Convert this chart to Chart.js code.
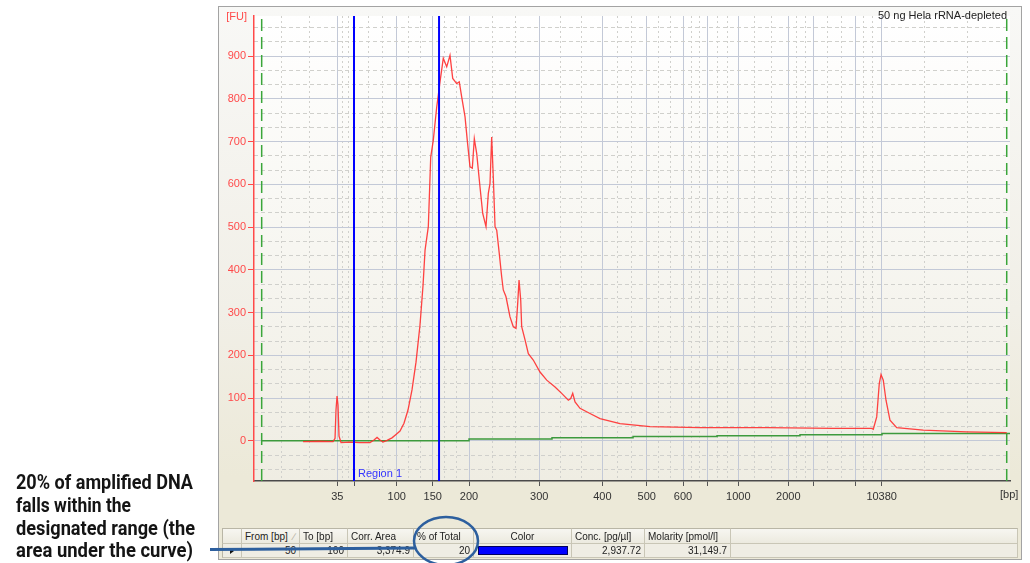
<!DOCTYPE html>
<html>
<head>
<meta charset="utf-8">
<script src="https://cdn.jsdelivr.net/npm/chart.js@4.4.1/dist/chart.umd.min.js"></script>
<style>
  html, body { margin: 0; padding: 0; width: 1030px; height: 563px; overflow: hidden; background: #ffffff;
    font-family: "Liberation Sans", Arial, sans-serif; }
  #panel { position: absolute; left: 218px; top: 6px; width: 804px; height: 554px; box-sizing: border-box;
    border: 1px solid #a3a3a3; background: linear-gradient(#f8f8f6 0%, #f1efe7 55%, #ece9d8 85%, #ece9d8 100%); }
  #chart { position: absolute; left: 0; top: 0; }
  #table { position: absolute; left: 0; top: 0; }
  .cell { position: absolute; box-sizing: border-box; font-size: 10px; color: #222; white-space: nowrap;
    border-right: 1px solid #c9c6b6; border-bottom: 1px solid #c9c6b6; overflow: hidden; }
  .head { background: linear-gradient(#f7f6f1, #eceadf); border-top: 1px solid #b9b6a6; padding: 2px 0 0 3px; }
  .row { background: #efede4; text-align: right; padding: 1px 3px 0 0; }
  .swatch { position: absolute; background: #0000ff; border: 1px solid #000060; box-sizing: border-box; }
  .pointer { position: absolute; width: 0; height: 0; border-top: 3px solid transparent; border-bottom: 3px solid transparent; border-left: 4px solid #111; }
  #notes { position: absolute; left: 0; top: 0; }
</style>
</head>
<body>
<div id="panel"></div>
<canvas id="chart" width="1030" height="563"></canvas>
<div id="table"></div>
<svg id="notes" width="1030" height="563" xmlns="http://www.w3.org/2000/svg"></svg>
<script>
// Electropherogram: fluorescence [FU] against migration time [s]; the x axis is labelled by ladder sizes [bp].
const ladderBp     = [35, 50, 100, 150, 200, 300, 400, 500, 600, 700, 1000, 2000, 3000, 7000, 10380];
const ladderTime   = [50.41, 52.5, 57.84, 62.34, 66.88, 75.66, 83.54, 89.09, 93.63, 96.66, 100.54, 106.79, 109.96, 115.13, 118.46];
const ladderLabels = ['35', '', '100', '150', '200', '300', '400', '500', '600', '', '1000', '2000', '', '', '10380'];
const timeRange    = [40, 134.5];

const fuTicks  = [0, 100, 200, 300, 400, 500, 600, 700, 800, 900];
const fuLabels = ['0', '100', '200', '300', '400', '500', '600', '700', '800', '900'];
const fuRange  = [-94, 994];

// sample trace
const sampleTime = [46.13, 48.25, 49.88, 50.13, 50.25, 50.38, 50.5, 50.63, 50.88, 52, 53.25, 54.5, 55, 55.38, 55.75,
  56.13, 56.63, 57.25, 57.75, 58.25, 58.75, 59.25, 59.75, 60.25, 60.75, 61.13, 61.38, 61.79, 62.09, 62.41, 62.84,
  63.04, 63.25, 63.66, 64.09, 64.5, 64.84, 65.34, 65.66, 65.96, 66.38, 66.66, 67, 67.29, 67.54, 67.84, 68.25, 68.59,
  69, 69.29, 69.5, 69.71, 69.91, 70.13, 70.34, 70.66, 70.96, 71.16, 71.5, 72, 72.41, 72.75, 72.96, 73.13, 73.34,
  73.46, 73.88, 74.29, 74.91, 75.75, 76.59, 77.63, 78.46, 79.29, 79.59, 79.84, 80.13, 80.75, 82, 83.25, 85.75, 89.5,
  95.75, 104.13, 112.38, 117.21, 117.41, 117.84, 118.16, 118.38, 118.66, 119, 119.5, 120.34, 123.66, 129.09, 134.09];
const sampleFU = [-2, -1, -2, 6, 72, 105, 84, 11, -4, -3, -4, -4, 2, 8, 2,
  -3, 1, 7, 15, 23, 41, 72, 119, 184, 271, 364, 446, 501, 664, 703, 781,
  809, 840, 895, 875, 902, 848, 836, 840, 805, 758, 703, 641, 638, 707, 672, 594, 532,
  501, 579, 602, 711, 618, 501, 493, 438, 384, 353, 337, 290, 267, 263, 321, 376, 329,
  267, 236, 204, 189, 161, 142, 126, 111, 95, 99, 111, 91, 76, 64, 52, 40, 33,
  31, 31, 29, 29, 27, 56, 134, 155, 142, 95, 48, 31, 25, 21, 19];

// baseline (stepped)
const baselineTime = [40.96, 66.88, 77.25, 87.38, 97.88, 108.25, 118.5, 134.5];
const baselineFU   = [0, 4, 7, 10, 12, 14, 17, 17];

// lower / upper marker and the region limits
const markerTime = [40.96, 134.09];
const regionBp   = [50, 160];
const regionTime = [52.5, 63.13];

// region table
const tableHeaders = ['', 'From [bp]', 'To [bp]', 'Corr. Area', '% of Total', 'Color', 'Conc. [pg/\u00b5l]', 'Molarity [pmol/l]', ''];
const tableValues  = ['', String(regionBp[0]), String(regionBp[1]), '3,374.9', '20', '', '2,937.72', '31,149.7', ''];

const noteLines = ['20% of amplified DNA', 'falls within the', 'designated range (the', 'area under the curve)'];
const chartTitle = '50 ng Hela rRNA-depleted';

// grid subdivisions: each interval split in three
function thirds(bounds, lo, hi) {
  const out = [];
  for (let i = 0; i < bounds.length - 1; i++) {
    const a = bounds[i], b = bounds[i + 1];
    [a + (b - a) / 3, a + 2 * (b - a) / 3].forEach(v => { if (v > lo && v < hi) out.push(v); });
  }
  return out;
}
const xMinor = thirds([timeRange[0], ...ladderTime, timeRange[1]], timeRange[0], timeRange[1]);
const yMinor = thirds([-100, ...fuTicks, 1000], fuRange[0], fuRange[1]);

const pts = (xs, ys) => xs.map((x, i) => ({ x: x, y: ys[i] }));
const vline = t => [{ x: t, y: fuRange[0] }, { x: t, y: fuRange[1] }];

const plotBg = {
  id: 'plotBg',
  beforeDraw(chart) {
    const { ctx, chartArea: a } = chart;
    const g = ctx.createLinearGradient(0, a.top, 0, a.bottom);
    g.addColorStop(0, '#ffffff');
    g.addColorStop(1, '#efede3');
    ctx.save();
    ctx.fillStyle = g;
    ctx.fillRect(a.left, a.top, a.right - a.left, a.bottom - a.top);
    ctx.restore();
  }
};

const plotText = {
  id: 'plotText',
  afterDraw(chart) {
    const { ctx, chartArea: a, scales } = chart;
    ctx.save();
    ctx.font = '11px "Liberation Sans", Arial, sans-serif';
    ctx.textBaseline = 'alphabetic';
    ctx.fillStyle = '#ff4a4a';
    ctx.textAlign = 'right';
    ctx.fillText('[FU]', a.left - 7, a.top + 4);
    ctx.fillStyle = '#222';
    ctx.fillText(chartTitle, a.right - 3, a.top + 3);
    ctx.textAlign = 'left';
    ctx.fillStyle = '#333';
    ctx.fillText('[bp]', a.right - 10, a.bottom + 17);
    ctx.fillStyle = '#3434ff';
    ctx.fillText('Region 1', scales.x.getPixelForValue(regionTime[0]) + 4, a.bottom - 4);
    ctx.restore();
  }
};

Chart.defaults.font.family = '"Liberation Sans", Arial, sans-serif';
Chart.defaults.font.size = 11;

new Chart(document.getElementById('chart'), {
  type: 'line',
  data: {
    datasets: [
      { label: 'Region 1 from', data: vline(regionTime[0]), borderColor: '#0000ff', borderWidth: 2, order: 0 },
      { label: 'Region 1 to', data: vline(regionTime[1]), borderColor: '#0000ff', borderWidth: 2, order: 0 },
      { label: 'Sample', data: pts(sampleTime, sampleFU), borderColor: 'rgba(255,45,45,0.9)', borderWidth: 1.3, order: 1 },
      { label: 'Baseline', data: pts(baselineTime, baselineFU), stepped: true, borderColor: '#3d9a3d', borderWidth: 1.5, order: 2 },
      { label: 'Lower marker', data: vline(markerTime[0]), borderColor: '#3aa63a', borderWidth: 1.5, borderDash: [12, 6], order: 3 },
      { label: 'Upper marker', data: vline(markerTime[1]), borderColor: '#3aa63a', borderWidth: 1.5, borderDash: [12, 6], order: 3 }
    ]
  },
  options: {
    responsive: false,
    animation: false,
    devicePixelRatio: 1,
    layout: { padding: { left: 218, top: 16, right: 20, bottom: 52 } },
    plugins: { legend: { display: false }, tooltip: { enabled: false } },
    elements: { point: { radius: 0 }, line: { tension: 0, fill: false } },
    scales: {
      x: {
        type: 'linear', axis: 'x', position: 'bottom', min: timeRange[0], max: timeRange[1],
        afterBuildTicks: s => { s.ticks = ladderTime.map(v => ({ value: v })); },
        afterFit: s => { s.height = 30; },
        ticks: { autoSkip: false, maxRotation: 0, minRotation: 0, color: '#333', padding: 4,
          callback: (v, i) => ladderLabels[i] },
        grid: { color: '#c3c9d7', lineWidth: 1, tickLength: 5, tickColor: '#555', tickWidth: 1 },
        border: { color: '#4a4a4a', width: 1.5 }
      },
      xMinor: {
        type: 'linear', axis: 'x', position: 'bottom', min: timeRange[0], max: timeRange[1],
        afterBuildTicks: s => { s.ticks = xMinor.map(v => ({ value: v })); },
        afterFit: s => { s.height = 0; },
        ticks: { display: false },
        grid: { color: '#d0d0cc', lineWidth: 1, drawTicks: false },
        border: { display: false, dash: [2, 3] }
      },
      y: {
        type: 'linear', axis: 'y', position: 'left', min: fuRange[0], max: fuRange[1],
        afterBuildTicks: s => { s.ticks = fuTicks.map(v => ({ value: v })); },
        afterFit: s => { s.width = 36; },
        ticks: { color: '#ff4a4a', padding: 2, callback: (v, i) => fuLabels[i] },
        grid: { color: '#c3c9d7', lineWidth: 1, tickLength: 6, tickColor: '#ff4a4a', tickWidth: 1 },
        border: { color: '#ff4a4a', width: 1.5 }
      },
      yMinor: {
        type: 'linear', axis: 'y', position: 'left', min: fuRange[0], max: fuRange[1],
        afterBuildTicks: s => { s.ticks = yMinor.map(v => ({ value: v })); },
        afterFit: s => { s.width = 0; },
        ticks: { display: false },
        grid: { color: '#d0d0cc', lineWidth: 1, drawTicks: false },
        border: { display: false, dash: [4, 3] }
      }
    }
  },
  plugins: [plotBg, plotText]
});

// region table
(function () {
  const edges = [222, 242, 300, 348, 414, 474, 572, 645, 731, 1018];
  const headTop = 528, headH = 16, rowH = 14;
  const root = document.getElementById('table');
  for (let i = 0; i < tableHeaders.length; i++) {
    const h = document.createElement('div');
    h.className = 'cell head';
    Object.assign(h.style, { left: edges[i] + 'px', top: headTop + 'px', width: (edges[i + 1] - edges[i]) + 'px', height: headH + 'px' });
    if (i === 0) h.style.borderLeft = '1px solid #b9b6a6';
    if (tableHeaders[i] === 'Color') { h.style.textAlign = 'center'; h.style.paddingLeft = '0'; }
    h.textContent = tableHeaders[i];
    if (i === 1) {
      const s = document.createElement('span');
      s.textContent = '\u2215';
      s.style.cssText = 'position:absolute;right:4px;top:2px;color:#b0ada0;';
      h.appendChild(s);
    }
    root.appendChild(h);

    const c = document.createElement('div');
    c.className = 'cell row';
    Object.assign(c.style, { left: edges[i] + 'px', top: (headTop + headH) + 'px', width: (edges[i + 1] - edges[i]) + 'px', height: rowH + 'px' });
    if (i === 0) c.style.borderLeft = '1px solid #b9b6a6';
    c.textContent = tableValues[i];
    root.appendChild(c);
  }
  const p = document.createElement('div');
  p.className = 'pointer';
  Object.assign(p.style, { left: '230px', top: (headTop + headH + 4) + 'px' });
  root.appendChild(p);
  const sw = document.createElement('div');
  sw.className = 'swatch';
  Object.assign(sw.style, { left: (edges[5] + 4) + 'px', top: (headTop + headH + 2) + 'px', width: (edges[6] - edges[5] - 8) + 'px', height: '9px' });
  root.appendChild(sw);
})();

// side note with its pointer line and ring
(function () {
  const NS = 'http://www.w3.org/2000/svg';
  const svg = document.getElementById('notes');
  const base = [489, 511.5, 535, 556.5];
  const widths = [177, 115, 179, 177];
  noteLines.forEach((t, i) => {
    const el = document.createElementNS(NS, 'text');
    el.setAttribute('x', 16);
    el.setAttribute('y', base[i]);
    el.setAttribute('textLength', widths[i]);
    el.setAttribute('lengthAdjust', 'spacingAndGlyphs');
    el.setAttribute('font-family', 'Roboto, "Liberation Sans", sans-serif');
    el.setAttribute('font-weight', 'bold');
    el.setAttribute('font-size', '20');
    el.setAttribute('fill', '#141414');
    el.textContent = t;
    svg.appendChild(el);
  });
  const line = document.createElementNS(NS, 'line');
  line.setAttribute('x1', 210); line.setAttribute('y1', 549.5);
  line.setAttribute('x2', 415); line.setAttribute('y2', 548);
  line.setAttribute('stroke', '#2d5f9e'); line.setAttribute('stroke-width', 3);
  svg.appendChild(line);
  const ring = document.createElementNS(NS, 'ellipse');
  ring.setAttribute('cx', 446); ring.setAttribute('cy', 541);
  ring.setAttribute('rx', 32); ring.setAttribute('ry', 24);
  ring.setAttribute('fill', 'none');
  ring.setAttribute('stroke', '#2d5f9e'); ring.setAttribute('stroke-width', 2.5);
  svg.appendChild(ring);
})();
</script>
</body>
</html>
